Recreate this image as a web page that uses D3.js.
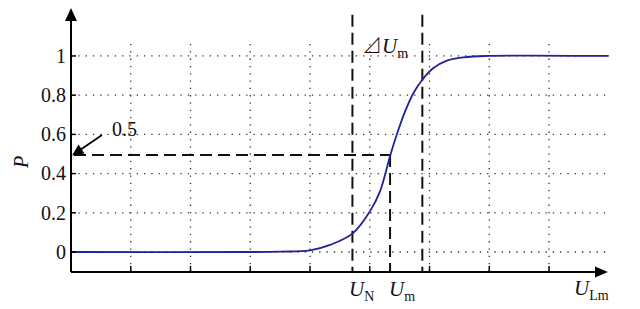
<!DOCTYPE html>
<html><head><meta charset="utf-8">
<script src="https://cdn.jsdelivr.net/npm/d3@7"></script>
<style>html,body{margin:0;padding:0;background:#fff;}svg{display:block;}</style>
</head><body>
<svg id="c" width="640" height="309"></svg>
<script>
// ---- data ----
const yTicks = [0, 0.2, 0.4, 0.6, 0.8, 1];
const yTickLabels = ["0", "0.2", "0.4", "0.6", "0.8", "1"];
const xGrid = [1, 2, 3, 4, 5, 6, 7, 8];
const curveU = [0, 3.0, 3.5, 4.0, 4.335, 4.715, 5.0, 5.17, 5.34, 5.45, 5.59, 5.73, 5.886, 6.06, 6.29, 6.57, 6.96, 9.0];
const curveP = [0, 0, 0.002, 0.008, 0.036, 0.095, 0.206, 0.308, 0.49, 0.597, 0.716, 0.81, 0.881, 0.937, 0.976, 0.993, 1.0, 1.0];
const uN = 4.71, uM = 5.34, uTop = 5.88, pHalf = 0.495;

const svg = d3.select("#c");
const x = d3.scaleLinear().domain([0, 9]).range([71, 608.75]);
const y = d3.scaleLinear().domain([-0.102, 1.061]).range([272, 44]);
const FONT = "Liberation Serif, DejaVu Serif, serif";

// grid
const grid = svg.append("g").attr("stroke", "#333").attr("stroke-width", 1.3).attr("stroke-dasharray", "1.3 6");
yTicks.forEach(v => grid.append("line").attr("x1", x(0)).attr("x2", x(9)).attr("y1", y(v)).attr("y2", y(v)));
xGrid.forEach(v => grid.append("line").attr("x1", x(v)).attr("x2", x(v)).attr("y1", y(1.061)).attr("y2", y(-0.102)));

// dashed guide lines
const dash = svg.append("g").attr("stroke", "#111").attr("stroke-width", 2).attr("stroke-dasharray", "12 6").attr("fill", "none");
dash.append("line").attr("x1", x(uN)).attr("x2", x(uN)).attr("y1", y(1.21)).attr("y2", y(-0.102));
dash.append("line").attr("x1", x(uTop)).attr("x2", x(uTop)).attr("y1", y(1.21)).attr("y2", y(-0.102));
dash.append("line").attr("x1", x(uM)).attr("x2", x(uM)).attr("y1", y(pHalf)).attr("y2", y(-0.102));
dash.append("line").attr("x1", x(0)+3).attr("x2", x(uM)).attr("y1", y(pHalf)).attr("y2", y(pHalf));

// curve
const pts = curveU.map((u, i) => [u, curveP[i]]);
svg.append("path").datum(pts)
  .attr("fill", "none").attr("stroke", "#22229a").attr("stroke-width", 1.8)
  .attr("d", d3.line().x(d => x(d[0])).y(d => y(d[1])).curve(d3.curveCatmullRom.alpha(0.5)));

// axes
const ax = svg.append("g").attr("stroke", "#000").attr("stroke-width", 2);
ax.append("line").attr("x1", x(0)).attr("x2", x(0)).attr("y1", y(-0.102)).attr("y2", 18);
ax.append("line").attr("x1", x(0)).attr("x2", 598).attr("y1", y(-0.102)).attr("y2", y(-0.102));
svg.append("path").attr("d", `M${x(0)},8 L${x(0)-6},21 L${x(0)+6},21 Z`).attr("fill", "#000");
svg.append("path").attr("d", `M608,${y(-0.102)} L595,${y(-0.102)-5.5} L595,${y(-0.102)+5.5} Z`).attr("fill", "#000");
const tk = svg.append("g").attr("stroke", "#000").attr("stroke-width", 1.5);
xGrid.forEach(v => tk.append("line").attr("x1", x(v)).attr("x2", x(v)).attr("y1", y(-0.102)).attr("y2", y(-0.102)-6));
yTicks.forEach(v => tk.append("line").attr("x1", x(0)).attr("x2", x(0)+5).attr("y1", y(v)).attr("y2", y(v)));

// y tick labels
yTicks.forEach((v, i) => svg.append("text").attr("x", 66).attr("y", y(v)).attr("dy", "0.34em")
  .attr("text-anchor", "end").attr("font-family", FONT).attr("font-size", 20).attr("fill", "#111").text(yTickLabels[i]));

// y label P
svg.append("text").attr("transform", `translate(28,162) rotate(-90)`).attr("text-anchor", "middle")
  .attr("font-family", FONT).attr("font-style", "italic").attr("font-size", 20).attr("fill", "#111").text("P");

// 0.5 annotation with arrow
svg.append("line").attr("x1", 102).attr("y1", 135).attr("x2", 80).attr("y2", 150).attr("stroke", "#000").attr("stroke-width", 1.8);
svg.append("path").attr("d", "M72,155.5 L78.5,144.5 L84.5,153.5 Z").attr("fill", "#000");
svg.append("text").attr("x", 112).attr("y", 136).attr("font-family", FONT).attr("font-size", 20).attr("fill", "#111").text("0.5");

// labels with subscripts
function sub(xp, yp, main, subTxt, pre) {
  const t = svg.append("text").attr("x", xp).attr("y", yp).attr("font-family", FONT).attr("fill", "#111");
  if (pre) t.append("tspan").attr("font-family", "Noto Sans CJK SC, DejaVu Sans, sans-serif").attr("font-size", 20).attr("font-weight", 300).text(pre);
  t.append("tspan").attr("font-style", "italic").attr("font-size", 21).text(main);
  t.append("tspan").attr("font-size", 14).attr("dy", 5).text(subTxt);
}
sub(349, 296, "U", "N");
sub(389, 296, "U", "m");
sub(574, 295, "U", "Lm");
sub(362, 53, "U", "m", "⊿");
</script>
</body></html>
